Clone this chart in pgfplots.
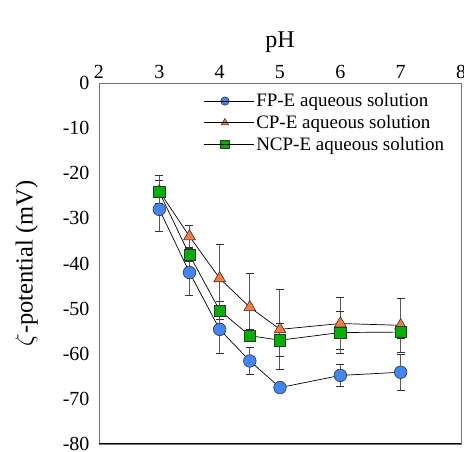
\documentclass[border=0pt]{standalone}
\usepackage{fontspec}
\setmainfont{Liberation Serif}
\usepackage{pgfplots}
\pgfplotsset{compat=1.18}
\usepackage{pgfplotstable}

\definecolor{fpblue}{RGB}{66,133,244}
\definecolor{cporange}{RGB}{250,122,62}
\definecolor{ncpgreen}{RGB}{0,178,0}

% pH  zeta  err
\pgfplotstableread{
x   y      e
3   -28.0  5.0
3.5 -42.0  5.0
4   -54.6  5.4
4.5 -61.6  3.0
5   -67.5  1.0
6   -64.8  2.4
7   -64.1  4.0
}\fpdata
\pgfplotstableread{
x   y      e
3   -24.0  3.6
3.5 -34.0  2.5
4   -43.3  7.4
4.5 -49.7  7.5
5   -54.6  8.8
6   -53.3  5.8
7   -53.7  6.0
}\cpdata
\pgfplotstableread{
x   y      e
3   -24.2  2.6
3.5 -38.1  1.5
4   -50.4  2.0
4.5 -56.0  1.3
5   -57.0  3.6
6   -55.3  4.7
7   -55.2  1.5
}\ncpdata

\begin{document}
\begin{tikzpicture}
\useasboundingbox (0pt,0pt) rectangle (464pt,452pt);
\begin{axis}[
  at={(99pt,8pt)}, anchor=south west,
  scale only axis, width=362pt, height=361pt,
  xmin=2, xmax=8, ymin=-80, ymax=0,
  xtick={2,3,...,8}, ytick={-80,-70,...,0},
  xticklabel pos=upper,
  major tick length=0pt,
  axis line style={black!55},
  /pgf/number format/assume math mode=true,
  ticklabel style={font=\fontsize{20}{22}\selectfont},
  xticklabel style={yshift=1pt},
  yticklabel style={xshift=-6pt},
  xlabel={pH}, ylabel={$\zeta$-potential (mV)},
  xlabel style={font=\fontsize{24}{26}\selectfont, yshift=5pt},
  ylabel style={font=\fontsize{24.5}{26}\selectfont, yshift=18pt},
  legend style={draw=none, fill=none, at={(rel axis cs:0.28,0.982)}, anchor=north west,
    font=\fontsize{19}{21}\selectfont, row sep=3pt},
  legend cell align=left,
  legend image code/.code={\draw[mark size=4.2pt, mark repeat=2, mark phase=2]
    plot coordinates {(0pt,0pt) (21pt,0pt) (42pt,0pt)};
    \path (0pt,0pt) -- (50pt,0pt);},
  error bars/y dir=both, error bars/y explicit,
  error bars/error bar style={black!65, line width=1pt},
  error bars/error mark options={rotate=90, mark size=4pt, black!80, line width=1pt},
]
\addplot[black, line width=0.7pt, mark=*, mark size=6.3pt,
  mark options={fill=fpblue, draw=black!80, line width=0.6pt}]
  table[x=x, y=y, y error=e] {\fpdata};
\addlegendentry{FP-E aqueous solution}
\addplot[black, line width=0.7pt, mark=triangle*, mark size=6.8pt,
  mark options={fill=cporange, draw=black!80, line width=0.6pt}]
  table[x=x, y=y, y error=e] {\cpdata};
\addlegendentry{CP-E aqueous solution}
\addplot[black, line width=0.7pt, mark=square*, mark size=5.6pt,
  mark options={fill=ncpgreen, draw=black!80, line width=0.6pt}]
  table[x=x, y=y, y error=e] {\ncpdata};
\addlegendentry{NCP-E aqueous solution}
\draw[black, line width=1pt] (rel axis cs:0,0) -- (rel axis cs:1,0);
\end{axis}
\end{tikzpicture}
\end{document}
